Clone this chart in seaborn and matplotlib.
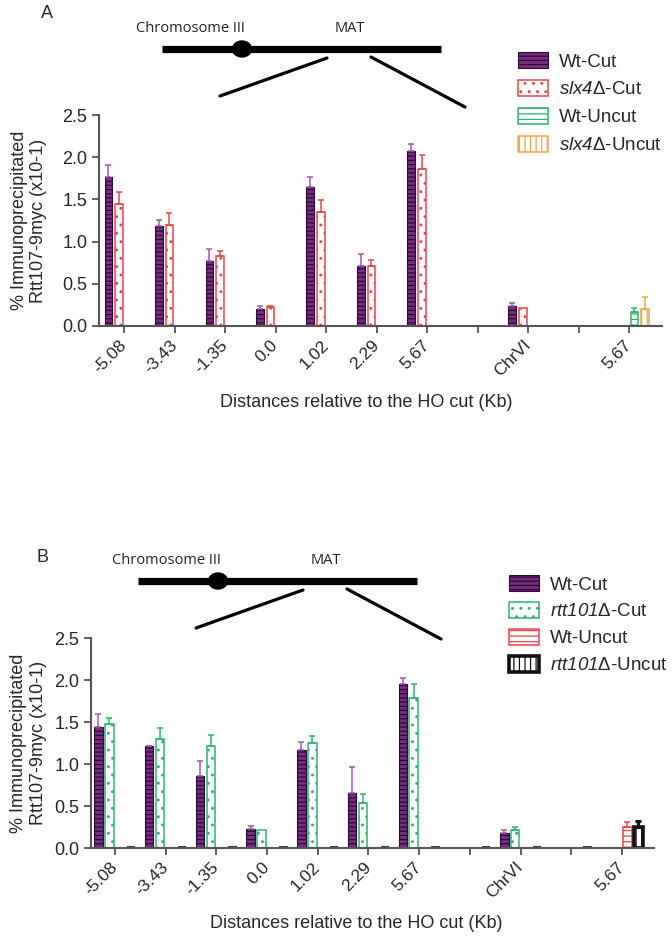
import numpy as np
import pandas as pd
import matplotlib
matplotlib.use("Agg")
import matplotlib.pyplot as plt
import seaborn as sns
from matplotlib.patches import Patch, Ellipse
from matplotlib.ticker import FormatStrFormatter

nan = np.nan

# ----------------------------------------------------
# data
# ----------------------------------------------------
sites = ["-5.08", "-3.43", "-1.35", "0.0", "1.02", "2.29", "5.67",
         "gap1", "ChrVI", "gap2", "5.67 uncut"]
tick_labels = ["-5.08", "-3.43", "-1.35", "0.0", "1.02", "2.29", "5.67",
               "", "ChrVI", "", "5.67"]

# panel A
strains_a = ["Wt-Cut", "slx4-Cut", "Wt-Uncut", "slx4-Uncut"]
wt_cut_a = [1.77, 1.18, 0.77, 0.205, 1.65, 0.71, 2.07, nan, 0.235, nan, nan]
wt_cut_a_err = [0.14, 0.08, 0.14, 0.035, 0.12, 0.14, 0.09, nan, 0.035, nan, nan]
slx4_cut_a = [1.44, 1.20, 0.83, 0.22, 1.35, 0.71, 1.86, nan, 0.21, nan, nan]
slx4_cut_a_err = [0.15, 0.14, 0.06, 0.02, 0.14, 0.07, 0.17, nan, 0.0, nan, nan]
wt_uncut_a = [nan] * 10 + [0.16]
wt_uncut_a_err = [nan] * 10 + [0.05]
slx4_uncut_a = [nan] * 10 + [0.20]
slx4_uncut_a_err = [nan] * 10 + [0.14]

# panel B
strains_b = ["Wt-Cut", "rtt101-Cut", "Wt-Uncut", "rtt101-Uncut"]
wt_cut_b = [1.44, 1.21, 0.86, 0.23, 1.17, 0.66, 1.95, nan, 0.18, nan, nan]
wt_cut_b_err = [0.16, 0.01, 0.18, 0.03, 0.09, 0.30, 0.07, nan, 0.03, nan, nan]
rtt_cut_b = [1.48, 1.30, 1.22, 0.21, 1.25, 0.53, 1.78, nan, 0.21, nan, nan]
rtt_cut_b_err = [0.07, 0.13, 0.13, 0.0, 0.08, 0.11, 0.17, nan, 0.04, nan, nan]
wt_uncut_b = [nan] * 10 + [0.25]
wt_uncut_b_err = [nan] * 10 + [0.06]
rtt_uncut_b = [0.0] * 10 + [0.25]
rtt_uncut_b_err = [0.0] * 10 + [0.07]

# italic gene names via \mathsf mapped to an italic font (keeps digits italic)
labels_a = ["Wt-Cut", r"$\mathsf{slx4}$Δ-Cut", "Wt-Uncut", r"$\mathsf{slx4}$Δ-Uncut"]
labels_b = ["Wt-Cut", r"$\mathsf{rtt101}$Δ-Cut", "Wt-Uncut", r"$\mathsf{rtt101}$Δ-Uncut"]

PURPLE = "#7b2a86"
RED = "#ee4449"
GREEN = "#2bb572"
ORANGE = "#f5a443"

styles_a = [
    dict(face=PURPLE, edge="#2b0c30", hatch="----", lw=0.8, err="#a258b0"),
    dict(face="white", edge=RED, hatch="..", lw=1.1, err=RED),
    dict(face="white", edge=GREEN, hatch="---", lw=1.1, err=GREEN),
    dict(face="white", edge=ORANGE, hatch="|||", lw=1.1, err=ORANGE),
]
styles_b = [
    dict(face=PURPLE, edge="#2b0c30", hatch="----", lw=0.8, err="#a258b0"),
    dict(face="white", edge=GREEN, hatch="..", lw=1.1, err=GREEN),
    dict(face="white", edge=RED, hatch="---", lw=1.1, err=RED),
    dict(face="white", edge="#111111", hatch="|||", lw=2.6, err="#111111"),
]


def make_frame(strains, values, errors):
    rows = []
    for strain, vals, errs in zip(strains, values, errors):
        for site, v, e in zip(sites, vals, errs):
            rows.append({"site": site, "strain": strain, "value": v, "err": e})
    return pd.DataFrame(rows).dropna(subset=["value"])


df_a = make_frame(strains_a,
                  [wt_cut_a, slx4_cut_a, wt_uncut_a, slx4_uncut_a],
                  [wt_cut_a_err, slx4_cut_a_err, wt_uncut_a_err, slx4_uncut_a_err])
df_b = make_frame(strains_b,
                  [wt_cut_b, rtt_cut_b, wt_uncut_b, rtt_uncut_b],
                  [wt_cut_b_err, rtt_cut_b_err, wt_uncut_b_err, rtt_uncut_b_err])

# ----------------------------------------------------
# style
# ----------------------------------------------------
sns.set_style("ticks")
plt.rcParams["font.family"] = ["Liberation Sans", "DejaVu Sans"]
plt.rcParams["mathtext.fontset"] = "custom"
plt.rcParams["mathtext.sf"] = "Liberation Sans:italic"
plt.rcParams["mathtext.it"] = "Liberation Sans:italic"
plt.rcParams["mathtext.rm"] = "Liberation Sans"
plt.rcParams["hatch.linewidth"] = 0.9

fig = plt.figure(figsize=(6.72, 9.38), dpi=100)
W, H = 672, 938


def draw_panel(ax, df, strains, styles, width, gap):
    sns.barplot(data=df, x="site", y="value", hue="strain", order=sites,
                hue_order=strains, width=width, gap=gap, errorbar=None,
                palette=["white"] * 4, legend=False, ax=ax)
    step = width / len(strains)
    err_map = {(r.site, r.strain): r.err for r in df.itertuples()}
    for p in list(ax.patches):
        h = p.get_height()
        if np.isnan(h):
            continue
        xc = p.get_x() + p.get_width() / 2
        cat = int(round(xc))
        k = int(round((xc - cat) / step + 1.5))
        st = styles[k]
        p.set_facecolor(st["face"])
        p.set_edgecolor(st["edge"])
        p.set_hatch(st["hatch"])
        p.set_linewidth(st["lw"])
        if hasattr(p, "set_hatchcolor"):
            p.set_hatchcolor(st["edge"])
        e = err_map.get((sites[cat], strains[k]), 0)
        if e and e > 0:
            elw = 2.2 if st["lw"] > 2 else 1.1
            ax.errorbar(xc, h, yerr=[[0], [e]], fmt="none", ecolor=st["err"],
                        elinewidth=elw, capsize=2.5, capthick=elw, zorder=3)
    ax.set_ylim(0, 2.5)
    ax.set_yticks(np.arange(0, 2.51, 0.5))
    ax.yaxis.set_major_formatter(FormatStrFormatter("%.1f"))
    ax.set_xticks(range(len(sites)))
    ax.set_xticklabels(tick_labels, rotation=45, ha="right", va="center",
                       rotation_mode="anchor", fontsize=12.5)
    ax.tick_params(axis="x", pad=7)
    ax.tick_params(axis="y", labelsize=13)
    ax.tick_params(length=5, width=1.3, color="#555555")
    for s in ["left", "bottom"]:
        ax.spines[s].set_color("#555555")
        ax.spines[s].set_linewidth(1.5)
    sns.despine(ax=ax)
    ax.set_xlabel("Distances relative to the HO cut (Kb)", fontsize=13)
    ax.set_ylabel("% Immunoprecipitated\nRtt107-9myc (x10-1)", fontsize=13,
                  linespacing=1.2)


# panel A axes
ax_a = fig.add_axes([99 / W, 1 - 326 / H, 563 / W, 211 / H])
draw_panel(ax_a, df_a, strains_a, styles_a, width=0.84, gap=0.28)
ax_a.set_xlim(-0.5, 10.65)
ax_a.xaxis.set_label_coords(0.474, -0.32)
ax_a.yaxis.set_label_coords(-0.092, 0.5)

# panel B axes
ax_b = fig.add_axes([91 / W, 1 - 848 / H, 563 / W, 210 / H])
draw_panel(ax_b, df_b, strains_b, styles_b, width=0.86, gap=0.22)
ax_b.set_xlim(-0.47, 10.63)
ax_b.xaxis.set_label_coords(0.472, -0.32)
ax_b.yaxis.set_label_coords(-0.078, 0.5)

# legends
for styles, labels, anchor, spacing in [
        (styles_a, labels_a, (518 / W, 1 - 52 / H), 0.5),
        (styles_b, labels_b, (509 / W, 1 - 575 / H), 0.45)]:
    handles = [Patch(facecolor=s["face"], edgecolor=s["edge"], hatch=s["hatch"],
                     linewidth=s["lw"]) for s in styles]
    fig.legend(handles, labels, loc="upper left", bbox_to_anchor=anchor,
               frameon=False, borderpad=0, borderaxespad=0, handlelength=1.6,
               handleheight=0.95, handletextpad=0.6, labelspacing=spacing,
               fontsize=13.5)

# chromosome diagrams (pixel coordinates)
deco = fig.add_axes([0, 0, 1, 1])
deco.set_xlim(0, W)
deco.set_ylim(H, 0)
deco.axis("off")
deco.patch.set_visible(False)

for x0, y0, letter, lx, ly in [(162, 49, "A", 47, 13), (138, 581, "B", 42, 558)]:
    deco.text(lx, ly, letter, fontsize=13, ha="center", va="center")
    deco.plot([x0, x0 + 279], [y0, y0], color="black", lw=5.2,
              solid_capstyle="butt")
    deco.add_patch(Ellipse((x0 + 80, y0), 19, 16, color="black"))
    deco.plot([x0 + 165, x0 + 58], [y0 + 9, y0 + 47], color="black", lw=2.3)
    deco.plot([x0 + 209, x0 + 303], [y0 + 8, y0 + 58], color="black", lw=2.3)
    deco.text(x0 + 28, y0 - 21, "Chromosome III", family="Open Sans",
              fontsize=10.5, ha="center", va="center", color="#222222")
    deco.text(x0 + 188, y0 - 21, "MAT", family="Open Sans", fontsize=10.5,
              ha="center", va="center", color="#222222")

fig.savefig("out.png", dpi=100)
